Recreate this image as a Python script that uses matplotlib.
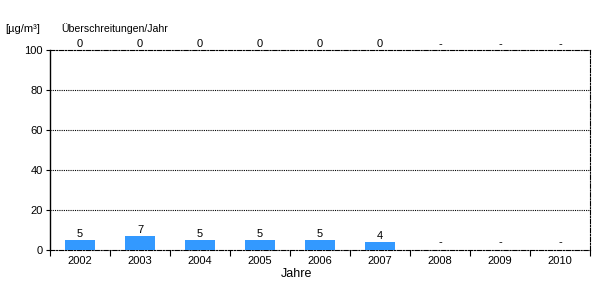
import matplotlib
matplotlib.use("Agg")
import matplotlib.pyplot as plt
import numpy as np

years = ["2002", "2003", "2004", "2005", "2006", "2007", "2008", "2009", "2010"]
values = [5, 7, 5, 5, 5, 4, None, None, None]
exceed = ["0", "0", "0", "0", "0", "0", "-", "-", "-"]
yticks = [0, 20, 40, 60, 80, 100]

plt.rcParams['font.family'] = ['Liberation Sans', 'DejaVu Sans']
plt.rcParams['font.size'] = 8

fig = plt.figure(figsize=(6, 3), dpi=100)
ax = fig.add_axes([50/600, 50/300, 540/600, 200/300])

x = np.arange(len(years))
vals = [v if v is not None else 0 for v in values]
ax.bar(x, vals, width=0.5, color="#3399FF", zorder=3)
for xi, v in zip(x, values):
    if v is None:
        ax.text(xi, 1.2, "-", ha="center", va="bottom", fontsize=8)
    else:
        ax.text(xi, v + 0.5, str(v), ha="center", va="bottom", fontsize=8)
for xi, e in zip(x, exceed):
    ax.text(xi, 100.3, e, ha="center", va="bottom", fontsize=8)

ax.set_xlim(-0.5, len(years) - 0.5)
ax.set_ylim(0, 100)
ax.set_yticks(yticks)
ax.set_xticks(x)
ax.set_xticklabels(years)
ax.set_xticks(np.arange(-0.5, len(years) + 0.5, 1), minor=True)
ax.tick_params(axis="x", which="major", length=0, pad=4)
ax.tick_params(axis="x", which="minor", length=4, direction="out", width=0.8)
ax.tick_params(axis="y", length=3, direction="out", width=0.8, pad=2)

for yv in yticks[1:-1]:
    ax.axhline(yv, color="black", linestyle=(0, (1, 1)), linewidth=0.8, zorder=1)

ax.spines["left"].set_linewidth(1.0)
for s in ["top", "right", "bottom"]:
    ax.spines[s].set_linestyle((0, (4, 1.5, 1, 1.5)))
    ax.spines[s].set_linewidth(0.8)

fig.text(297/600, 1 - 274/300, "Jahre", ha="center", va="center", fontsize=9)
fig.text(5/600, 1 - 29/300, "[µg/m³]", ha="left", va="center", fontsize=8)
fig.text(61/600, 1 - 29/300, "Überschreitungen/Jahr", ha="left", va="center", fontsize=7.6)

fig.savefig("out.png", dpi=100)
